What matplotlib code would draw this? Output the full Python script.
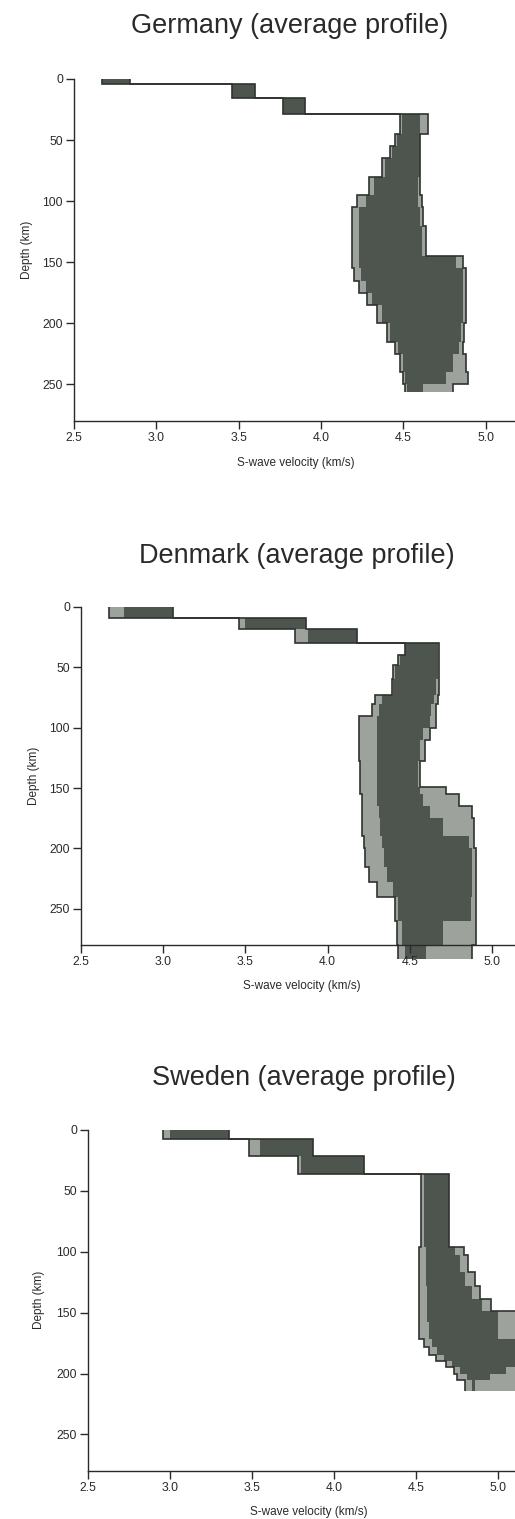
import numpy as np
import matplotlib.pyplot as plt

plt.rcParams['font.family'] = ['Liberation Sans', 'DejaVu Sans']

# --- data: layer edges (km) and velocity envelopes (km/s) ---
# "outer" = full spread of the model ensemble, "core" = densely overlapping part

ger_edges = [0, 4.5, 15.5, 29, 45, 55, 65, 80, 95, 105, 120, 135, 145, 155, 165,
             175, 185, 200, 215, 225, 240, 250, 256]
ger_lo = [2.67, 3.46, 3.77, 4.48, 4.45, 4.42, 4.37, 4.29, 4.22, 4.19, 4.19, 4.19,
          4.19, 4.20, 4.23, 4.28, 4.34, 4.40, 4.45, 4.48, 4.50, 4.51]
ger_hi = [2.84, 3.60, 3.90, 4.65, 4.60, 4.60, 4.60, 4.60, 4.61, 4.62, 4.64, 4.64,
          4.86, 4.88, 4.88, 4.88, 4.88, 4.87, 4.86, 4.88, 4.89, 4.80]
ger_core_lo = [2.67, 3.46, 3.77, 4.49, 4.46, 4.43, 4.39, 4.32, 4.27, 4.23, 4.23, 4.23,
               4.23, 4.24, 4.27, 4.31, 4.37, 4.42, 4.47, 4.50, 4.51, 4.52]
ger_core_hi = [2.84, 3.60, 3.90, 4.60, 4.60, 4.60, 4.60, 4.59, 4.59, 4.60, 4.61, 4.61,
               4.82, 4.86, 4.86, 4.86, 4.86, 4.85, 4.84, 4.80, 4.76, 4.62]

den_edges = [0, 9, 18, 30, 40, 48, 60, 73, 80, 90, 100, 110, 128, 149, 155, 165,
             175, 190, 200, 215, 228, 240, 260, 280, 292]
den_lo = [2.67, 3.46, 3.80, 4.47, 4.43, 4.40, 4.39, 4.29, 4.27, 4.19, 4.19, 4.19,
          4.20, 4.20, 4.21, 4.21, 4.21, 4.22, 4.23, 4.25, 4.30, 4.41, 4.42, 4.43]
den_hi = [3.06, 3.87, 4.18, 4.68, 4.68, 4.68, 4.68, 4.67, 4.66, 4.66, 4.62, 4.59,
          4.56, 4.72, 4.80, 4.88, 4.89, 4.89, 4.90, 4.90, 4.90, 4.90, 4.90, 4.88]
den_core_lo = [2.76, 3.50, 3.88, 4.47, 4.44, 4.41, 4.40, 4.33, 4.31, 4.30, 4.30, 4.30,
               4.30, 4.30, 4.30, 4.31, 4.32, 4.33, 4.34, 4.36, 4.40, 4.43, 4.45, 4.47]
den_core_hi = [3.06, 3.87, 4.18, 4.67, 4.67, 4.67, 4.66, 4.65, 4.63, 4.62, 4.58, 4.56,
               4.55, 4.56, 4.58, 4.62, 4.70, 4.86, 4.88, 4.88, 4.88, 4.87, 4.70, 4.60]

swe_edges = [0, 7, 21, 36, 96, 103, 117, 128, 139, 149, 158, 172, 178, 185, 190,
             195, 200, 205, 214]
swe_lo = [2.96, 3.48, 3.78, 4.53, 4.52, 4.52, 4.52, 4.52, 4.52, 4.52, 4.52, 4.55,
          4.58, 4.62, 4.68, 4.73, 4.75, 4.80]
swe_hi = [3.36, 3.87, 4.18, 4.70, 4.79, 4.82, 4.86, 4.89, 4.96, 5.25, 5.25, 5.25,
          5.25, 5.25, 5.25, 5.25, 5.25, 5.25]
swe_core_lo = [3.00, 3.55, 3.80, 4.55, 4.56, 4.56, 4.56, 4.57, 4.57, 4.57, 4.58, 4.60,
               4.63, 4.67, 4.72, 4.77, 4.81, 4.84]
swe_core_hi = [3.36, 3.87, 4.18, 4.70, 4.74, 4.77, 4.80, 4.84, 4.90, 5.00, 5.00, 5.25,
               5.25, 5.25, 5.25, 5.05, 4.95, 4.86]

titles = ['Germany (average profile)', 'Denmark (average profile)', 'Sweden (average profile)']
xticks = [2.5, 3.0, 3.5, 4.0, 4.5, 5.0]
yticks = [0, 50, 100, 150, 200, 250]

core_col = '#4e554f'
fringe_col = '#9da29d'
edge_col = '#2f332f'
ink = '#2a2a2a'

fig = plt.figure(figsize=(5.15, 15.19), dpi=100)

# axes boxes [left, bottom, width, height] and text positions (pixels) per panel
boxes = [[0.1437, 0.7228, 0.8635, 0.2252],
         [0.1573, 0.3779, 0.8619, 0.2225],
         [0.1709, 0.0316, 0.8598, 0.2245]]
title_xy = [(290, 26), (297, 556), (304, 1078)]
xlab_xy = [(296, 463), (302, 986), (309, 1512)]
ylab_xy = [(27, 250), (34, 776), (39, 1300)]

profiles = [(ger_edges, ger_lo, ger_hi, ger_core_lo, ger_core_hi),
            (den_edges, den_lo, den_hi, den_core_lo, den_core_hi),
            (swe_edges, swe_lo, swe_hi, swe_core_lo, swe_core_hi)]

W, H = 515, 1519
for i, (edges, lo, hi, clo, chi) in enumerate(profiles):
    ax = fig.add_axes(boxes[i])
    ax.stairs(hi, edges, baseline=lo, fill=True, orientation='horizontal',
              color=fringe_col, lw=0, clip_on=False)
    ax.stairs(chi, edges, baseline=clo, fill=True, orientation='horizontal',
              color=core_col, lw=0, clip_on=False)
    for v in (lo, hi):
        ax.stairs(v, edges, baseline=None, orientation='horizontal',
                  color=edge_col, lw=1.2, clip_on=False)

    ax.set_xlim(2.5, 5.2)
    ax.set_ylim(280, 0)
    ax.set_xticks(xticks)
    ax.set_xticklabels([f'{t:.1f}' for t in xticks])
    ax.set_yticks(yticks)
    for s in ('top', 'right'):
        ax.spines[s].set_visible(False)
    for s in ('left', 'bottom'):
        ax.spines[s].set_linewidth(1.0)
        ax.spines[s].set_color(ink)
    ax.tick_params(direction='out', length=5.5, width=1.0, color=ink,
                   labelsize=8.8, labelcolor=ink, pad=2.5)

    fig.text(title_xy[i][0] / W, 1 - title_xy[i][1] / H, titles[i],
             ha='center', va='center', fontsize=19.5, color=ink)
    fig.text(xlab_xy[i][0] / W, 1 - xlab_xy[i][1] / H, 'S-wave velocity (km/s)',
             ha='center', va='center', fontsize=8.5, color=ink)
    fig.text(ylab_xy[i][0] / W, 1 - ylab_xy[i][1] / H, 'Depth (km)', rotation=90,
             ha='center', va='center', fontsize=8.5, color=ink)

fig.savefig('out.png', dpi=100, facecolor='white')
